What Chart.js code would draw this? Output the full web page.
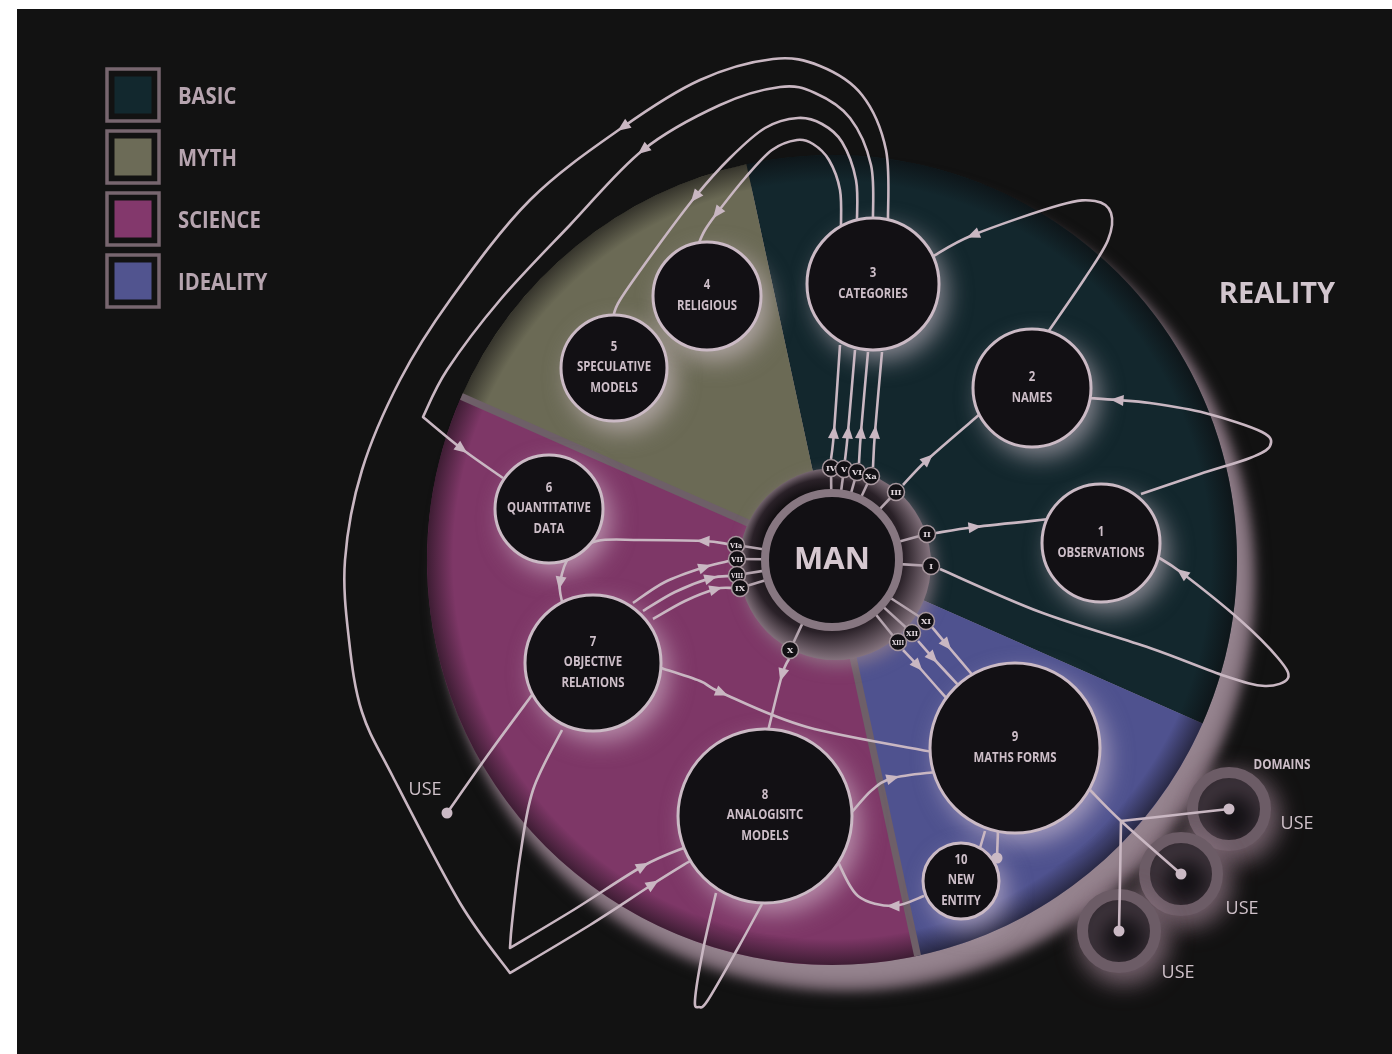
<!DOCTYPE html>
<html><head><meta charset="utf-8">
<script src="https://cdn.jsdelivr.net/npm/chart.js@4.4.1/dist/chart.umd.min.js"></script>
<style>
html,body{margin:0;padding:0;background:#121212;}
#wrap{position:relative;width:1392px;height:1054px;overflow:hidden;background:#fff;}
#bg{position:absolute;left:17px;top:9px;right:0;bottom:-20px;background:#121212;}
canvas{position:absolute;left:0;top:0;}
</style></head><body>
<div id="wrap"><div id="bg"></div>
<canvas id="pie" width="1392" height="1054"></canvas>
<canvas id="net" width="1392" height="1054"></canvas></div>
<script>
// ================= DATA =================
const categories = ['BASIC', 'MYTH', 'SCIENCE', 'IDEALITY'];
const categoryShares = [35, 15, 35, 15];
const categoryColors = ['#13272d', '#6b6a55', '#7e3767', '#4f528f'];
const legendColors = ['#12282e', '#6c6b57', '#83386c', '#51548f'];
const pieOrder = [0, 3, 2, 1];          // clockwise from the top: BASIC, IDEALITY, SCIENCE, MYTH
const pieRotation = -12.2;

const nodeNumbers = ['1', '2', '3', '4', '5', '6', '7', '8', '9', '10'];
const nodeNames = [['OBSERVATIONS'], ['NAMES'], ['CATEGORIES'], ['RELIGIOUS'], ['SPECULATIVE', 'MODELS'],
  ['QUANTITATIVE', 'DATA'], ['OBJECTIVE', 'RELATIONS'], ['ANALOGISITC', 'MODELS'], ['MATHS FORMS'], ['NEW', 'ENTITY']];
const nodeX = [1101, 1032, 873, 707, 614, 549, 593, 765, 1015, 961];
const nodeY = [543, 388, 284, 296, 368, 509, 663, 816, 748, 881];
const nodeR = [59, 59, 66, 54, 53, 54, 68, 87, 85, 38];

const centreLabel = 'MAN';
const centreX = [832], centreY = [560], centreR = [67];

const badgeLabels = ['I', 'II', 'III', 'IV', 'V', 'VI', 'Xa', 'VIa', 'VII', 'VIII', 'IX', 'X', 'XI', 'XII', 'XIII'];
const badgeX = [931, 927, 896, 831, 844, 857, 871, 736, 737, 737, 740, 790, 926, 912, 898];
const badgeY = [566, 534, 492, 468, 469, 472, 476, 545, 559, 575, 588, 650, 621, 633, 642];

const domainX = [1229, 1181, 1119], domainY = [809, 874, 931];
const useDotX = [1229, 1181, 1119, 447, 997], useDotY = [809, 874, 931, 813, 858];
const useLabels = ['USE', 'USE', 'USE', 'USE'];
const useLabelX = [1297, 1242, 1178, 425], useLabelY = [824, 909, 973, 790];
const domainsTitle = 'DOMAINS';
const realityLabel = 'REALITY';

// connections: path through points, corner indices, arrow indices
const links = [
  { pts: [[888,221],[886,150],[862,95],[820,66],[773,59],[700,80],[623,127],[530,200],[450,300],[400,380],[362,470],[345,560],[349,640],[362,712],[393,777],[460,903],[510,973],[590,925],[653,884],[690,861]], corners: [16], arrows: [6, 18] },
  { pts: [[873,219],[871,165],[850,118],[815,93],[780,87],[720,105],[643,150],[570,225],[500,300],[447,370],[423,417],[462,449],[503,478]], corners: [10], arrows: [6, 11] },
  { pts: [[857,221],[856,180],[842,142],[822,124],[798,118],[765,128],[730,158],[695,197],[655,250],[620,300],[613,318]], arrows: [7] },
  { pts: [[841,227],[840,190],[829,160],[813,144],[797,140],[772,150],[745,178],[717,213],[705,230],[698,245]], arrows: [7] },
  { pts: [[831,459],[834,432],[840,345]], arrows: [1] },
  { pts: [[845,460],[848,432],[855,350]], arrows: [1] },
  { pts: [[859,463],[861,432],[868,352]], arrows: [1] },
  { pts: [[873,467],[875,432],[882,352]], arrows: [1] },
  { pts: [[903,485],[928,459],[980,414]], arrows: [1] },
  { pts: [[936,533],[975,527],[1050,519]], arrows: [1] },
  { pts: [[940,569],[1040,612],[1150,648],[1225,676],[1265,686],[1288,678],[1278,658],[1240,620],[1182,573],[1156,556]], arrows: [8] },
  { pts: [[1141,494],[1200,474],[1250,458],[1270,446],[1262,432],[1205,413],[1150,403],[1117,400],[1089,398]], arrows: [7] },
  { pts: [[1048,332],[1085,278],[1108,240],[1111,213],[1095,201],[1060,205],[973,235],[932,257]], arrows: [6] },
  { pts: [[932,627],[947,645],[975,678]], arrows: [1] },
  { pts: [[918,641],[933,658],[960,687]], arrows: [1] },
  { pts: [[903,650],[918,666],[947,699]], arrows: [1] },
  { pts: [[789,659],[782,675],[768,731]], arrows: [1] },
  { pts: [[728,544],[703,541],[640,540],[597,541],[570,556],[560,583],[562,602]], arrows: [1, 5] },
  { pts: [[633,603],[665,582],[705,567],[729,561]], arrows: [2] },
  { pts: [[643,611],[675,592],[711,578],[730,576]], arrows: [2] },
  { pts: [[653,619],[685,601],[716,589],[732,588]], arrows: [2] },
  { pts: [[661,668],[700,681],[722,693],[807,727],[933,752]], arrows: [2] },
  { pts: [[532,695],[490,752],[447,813]] },
  { pts: [[562,730],[533,790],[520,857],[512,923],[510,948],[575,909],[643,866],[686,847]], corners: [4], arrows: [6] },
  { pts: [[716,893],[703,950],[695,1000],[699,1007],[708,1000],[738,948],[762,904]] },
  { pts: [[852,812],[872,790],[893,778],[935,772]], arrows: [2] },
  { pts: [[924,896],[893,906],[858,896],[838,862]], arrows: [1] },
  { pts: [[985,831],[980,848]] },
  { pts: [[998,830],[997,858]] },
  { pts: [[1090,790],[1121,821],[1181,874]] },
  { pts: [[1121,821],[1175,815],[1229,809]] },
  { pts: [[1121,821],[1120,880],[1119,931]] }
];

// ================= DRAWING HELPERS =================
const INK = '#c9b7c2';
const TEXT = '#cdbec8';
function txt(ctx, s, x, y, size, weight, color, sx, align) {
  ctx.save();
  ctx.translate(x, y); ctx.scale(sx, 1);
  ctx.font = weight + ' ' + size + 'px "Open Sans", "Noto Sans", sans-serif';
  ctx.fillStyle = color; ctx.textAlign = align || 'center'; ctx.textBaseline = 'middle';
  ctx.fillText(s, 0, 0);
  ctx.restore();
}
function arrowHead(ctx, x, y, dx, dy) {
  const L = Math.hypot(dx, dy) || 1, ux = dx / L, uy = dy / L, len = 13, w = 5.5;
  ctx.beginPath();
  ctx.moveTo(x + ux * len / 2, y + uy * len / 2);
  ctx.lineTo(x - ux * len / 2 - uy * w, y - uy * len / 2 + ux * w);
  ctx.lineTo(x - ux * len / 2 + uy * w, y - uy * len / 2 - ux * w);
  ctx.closePath(); ctx.fill();
}
function px(chart, p) { return [chart.scales.x.getPixelForValue(p[0]), chart.scales.y.getPixelForValue(p[1])]; }
function drawLink(ctx, chart, L) {
  const pts = L.pts.map(p => px(chart, p));
  const breaks = [0, ...(L.corners || []), pts.length - 1];
  ctx.beginPath(); ctx.moveTo(pts[0][0], pts[0][1]);
  for (let s = 0; s < breaks.length - 1; s++) {
    const seg = pts.slice(breaks[s], breaks[s + 1] + 1);
    for (let i = 0; i < seg.length - 1; i++) {
      const p0 = seg[i - 1] || seg[i], p1 = seg[i], p2 = seg[i + 1], p3 = seg[i + 2] || seg[i + 1];
      ctx.bezierCurveTo(p1[0] + (p2[0] - p0[0]) / 6, p1[1] + (p2[1] - p0[1]) / 6,
        p2[0] - (p3[0] - p1[0]) / 6, p2[1] - (p3[1] - p1[1]) / 6, p2[0], p2[1]);
    }
  }
  ctx.stroke();
  (L.arrows || []).forEach(i => {
    const a = pts[i - 1] || pts[i], b = pts[i + 1] || pts[i];
    arrowHead(ctx, pts[i][0], pts[i][1], b[0] - a[0], b[1] - a[1]);
  });
}

// ================= PIE (sectors) =================
const pieFx = {
  id: 'pieFx',
  beforeDatasetsDraw(chart) {
    const a = chart.getDatasetMeta(0).data[0];
    const ctx = chart.ctx, cx = a.x, cy = a.y, R = a.outerRadius;
    ctx.save();
    ctx.filter = 'blur(5px)';
    const gx = cx + 14, gy = cy + 22;
    const g = ctx.createRadialGradient(gx, gy, R - 14, gx, gy, R + 14);
    g.addColorStop(0, '#95838e'); g.addColorStop(0.5, '#7c6a75'); g.addColorStop(1, 'rgba(18,18,18,0)');
    ctx.fillStyle = g; ctx.beginPath(); ctx.arc(gx, gy, R + 14, 0, Math.PI * 2); ctx.fill();
    ctx.restore();
  },
  afterDatasetsDraw(chart) {
    const meta = chart.getDatasetMeta(0);
    const a = meta.data[0];
    const ctx = chart.ctx, cx = a.x, cy = a.y, R = a.outerRadius;
    ctx.save();
    const g2 = ctx.createRadialGradient(cx, cy, R - 26, cx, cy, R);
    g2.addColorStop(0, 'rgba(10,8,10,0)'); g2.addColorStop(1, 'rgba(10,8,10,0.55)');
    ctx.fillStyle = g2; ctx.beginPath();
    ctx.arc(cx, cy, R, 0, Math.PI * 2); ctx.arc(cx, cy, R - 26, 0, Math.PI * 2, true); ctx.fill();
    const sci = meta.data[pieOrder.indexOf(2)];
    ctx.strokeStyle = '#6e5f68'; ctx.lineWidth = 7;
    [sci.startAngle, sci.endAngle].forEach(t => {
      ctx.beginPath(); ctx.moveTo(cx, cy); ctx.lineTo(cx + R * Math.cos(t), cy + R * Math.sin(t)); ctx.stroke();
    });
    ctx.restore();
  }
};
new Chart(document.getElementById('pie'), {
  type: 'pie',
  data: {
    labels: pieOrder.map(i => categories[i]),
    datasets: [{ data: pieOrder.map(i => categoryShares[i]), backgroundColor: pieOrder.map(i => categoryColors[i]),
      borderWidth: 0, hoverOffset: 0, offset: 0 }]
  },
  options: {
    responsive: false, animation: false, events: [], rotation: pieRotation,
    layout: { padding: { left: 427, right: 155, top: 155, bottom: 89 } },
    plugins: { legend: { display: false }, tooltip: { enabled: false } }
  },
  plugins: [pieFx]
});

// ================= NETWORK (nodes, links, labels) =================
const netFx = {
  id: 'netFx',
  beforeDatasetsDraw(chart) {
    const ctx = chart.ctx;
    categories.forEach((c, i) => {
      const y = 69 + i * 62;
      ctx.save();
      ctx.strokeStyle = '#77666f'; ctx.lineWidth = 3.5;
      ctx.strokeRect(107, y, 52, 52);
      ctx.fillStyle = legendColors[i]; ctx.fillRect(114.5, y + 7.5, 37, 37);
      ctx.restore();
    });
  },
  beforeDatasetDraw(chart, args) {
    const ctx = chart.ctx;
    const lbl = chart.data.datasets[args.index].label;
    if (lbl === 'domains') {
      ctx.save();
      ctx.shadowColor = 'rgba(150,125,140,0.85)'; ctx.shadowBlur = 26; ctx.shadowOffsetX = 5; ctx.shadowOffsetY = 8;
    }
    if (lbl === 'nodes') {
      const OFF = 6000;
      chart.getDatasetMeta(args.index).data.forEach((el, i) => {
        ctx.save();
        ctx.shadowColor = 'rgba(232,214,226,0.55)'; ctx.shadowBlur = 24;
        ctx.shadowOffsetX = 8 + OFF; ctx.shadowOffsetY = 10;
        ctx.fillStyle = '#000'; ctx.beginPath(); ctx.arc(el.x - OFF, el.y, nodeR[i], 0, Math.PI * 2); ctx.fill();
        ctx.restore();
      });
      const manIdx = chart.data.datasets.findIndex(d => d.label === 'man');
      const m = chart.getDatasetMeta(manIdx).data[0];
      ctx.save();
      ctx.shadowColor = 'rgba(150,130,142,0.7)'; ctx.shadowBlur = 16; ctx.shadowOffsetX = 4; ctx.shadowOffsetY = 6;
      const g = ctx.createRadialGradient(m.x - 14, m.y - 14, 50, m.x + 3, m.y + 4, 99);
      g.addColorStop(0, '#0d0b0d'); g.addColorStop(0.55, '#2a2128'); g.addColorStop(1, '#8e7c87');
      ctx.fillStyle = g; ctx.beginPath(); ctx.arc(m.x + 3, m.y + 4, 96, 0, Math.PI * 2); ctx.fill();
      ctx.restore();
      const bIdx = chart.data.datasets.findIndex(d => d.label === 'badges');
      ctx.save(); ctx.strokeStyle = '#b3a3ad'; ctx.lineWidth = 2.6;
      chart.getDatasetMeta(bIdx).data.forEach(b => {
        const dx = b.x - m.x, dy = b.y - m.y, d = Math.hypot(dx, dy);
        ctx.beginPath(); ctx.moveTo(m.x + dx / d * 68, m.y + dy / d * 68); ctx.lineTo(b.x, b.y); ctx.stroke();
      });
      ctx.restore();
      ctx.save(); ctx.strokeStyle = INK; ctx.fillStyle = INK; ctx.lineWidth = 2.6; ctx.lineJoin = 'round';
      links.forEach(L => drawLink(ctx, chart, L));
      ctx.restore();
    }
  },
  afterDatasetDraw(chart, args) {
    if (chart.data.datasets[args.index].label === 'domains') chart.ctx.restore();
  },
  afterDatasetsDraw(chart) {
    const ctx = chart.ctx;
    categories.forEach((c, i) => txt(ctx, c, 178, 97 + i * 62, 23, 'bold', '#b6a4af', 0.88, 'left'));
    txt(ctx, realityLabel, 1277, 295, 29, 'bold', '#d2c6ce', 1, 'center');
    const nIdx = chart.data.datasets.findIndex(d => d.label === 'nodes');
    chart.getDatasetMeta(nIdx).data.forEach((el, i) => {
      const lines = [nodeNumbers[i], ...nodeNames[i]];
      const y0 = el.y - (lines.length - 1) * 20.5 / 2 - 1;
      lines.forEach((s, k) => txt(ctx, s, el.x, y0 + k * 20.5, 15, 'bold', TEXT, 0.76, 'center'));
    });
    const mIdx = chart.data.datasets.findIndex(d => d.label === 'man');
    const m = chart.getDatasetMeta(mIdx).data[0];
    txt(ctx, centreLabel, m.x, m.y, 31, 'bold', '#d6c8d0', 1, 'center');
    const bIdx = chart.data.datasets.findIndex(d => d.label === 'badges');
    chart.getDatasetMeta(bIdx).data.forEach((b, i) => {
      ctx.save();
      ctx.font = 'bold 8px "DejaVu Serif", "Liberation Serif", serif';
      ctx.fillStyle = '#e6dce2'; ctx.textAlign = 'center'; ctx.textBaseline = 'middle';
      ctx.fillText(badgeLabels[i], b.x, b.y + 0.5, 12);
      ctx.restore();
    });
    useLabels.forEach((s, i) => txt(ctx, s, chart.scales.x.getPixelForValue(useLabelX[i]), chart.scales.y.getPixelForValue(useLabelY[i]), 18, 'normal', '#d0c2ca', 1, 'center'));
    txt(ctx, domainsTitle, chart.scales.x.getPixelForValue(1282), chart.scales.y.getPixelForValue(765), 15, 'bold', '#cdbec8', 0.78, 'center');
  }
};

new Chart(document.getElementById('net'), {
  type: 'bubble',
  data: {
    datasets: [
      { label: 'dots', order: 1, data: useDotX.map((x, i) => ({ x, y: useDotY[i], r: 5.5 })),
        backgroundColor: '#cbbac5', borderWidth: 0 },
      { label: 'badges', order: 2, data: badgeX.map((x, i) => ({ x, y: badgeY[i], r: 8.5 })),
        backgroundColor: '#121014', borderColor: '#a8989f', borderWidth: 1.5 },
      { label: 'man', order: 3, data: centreX.map((x, i) => ({ x, y: centreY[i], r: centreR[i] })),
        backgroundColor: '#121014', borderColor: '#877781', borderWidth: 8 },
      { label: 'nodes', order: 4, data: nodeX.map((x, i) => ({ x, y: nodeY[i], r: nodeR[i] })),
        backgroundColor: '#121014', borderColor: '#cbbac5', borderWidth: 3 },
      { label: 'domains', order: 5, data: domainX.map((x, i) => ({ x, y: domainY[i], r: 36.5 })),
        backgroundColor: '#121014', borderColor: '#6c5c66', borderWidth: 11 }
    ]
  },
  options: {
    responsive: false, animation: false, events: [],
    layout: { autoPadding: false, padding: 0 },
    scales: {
      x: { type: 'linear', min: 0, max: 1392, display: false },
      y: { type: 'linear', min: 0, max: 1054, reverse: true, display: false }
    },
    elements: { point: { hoverRadius: 0 } },
    plugins: { legend: { display: false }, tooltip: { enabled: false } },
    clip: false
  },
  plugins: [netFx]
});
</script>
</body></html>
